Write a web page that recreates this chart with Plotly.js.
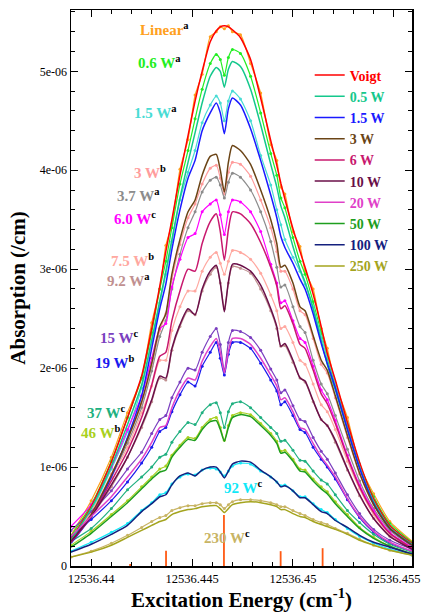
<!DOCTYPE html>
<html><head><meta charset="utf-8">
<script src="https://cdn.plot.ly/plotly-3.0.1.min.js"></script>
<style>html,body{margin:0;padding:0;background:#fff;}#chart{width:421px;height:612px;}</style>
</head><body><div id="chart"></div>
<script>
// Excitation energy grid (cm^-1)
const energy = [12536.4390,12536.4400,12536.4410,12536.4418,12536.4425,12536.4430,12536.4434,12536.4437,12536.4440,12536.4444,
 12536.4448,12536.44515,12536.4455,12536.4459,12536.4462,12536.4464,12536.4466,12536.4468,12536.4470,12536.4474,
 12536.4479,12536.4484,12536.4489,12536.4492,12536.4494,12536.4496,12536.4500,12536.45035,12536.4506,12536.4510,
 12536.4514,12536.4517,12536.4521,12536.4527,12536.4533,12536.4540,12536.4548,12536.4559];

// Absorption values in units of 1e-06 /cm
// model curves
const m_voigt = [0.27,0.6,1.05,1.5,1.92,2.4,2.83,3.18,3.5,3.95, 4.35,4.7,5.0,5.3,5.41,5.45,5.46,5.45,5.42,5.34, 5.12,4.73,4.3,4.05,3.87,3.71,3.41,3.18,3.02,2.75, 2.42,2.15,1.88,1.45,1.05,0.68,0.41,0.23];
const m_0p5 = [0.26,0.58,1.01,1.43,1.83,2.28,2.68,2.98,3.3,3.72, 4.08,4.38,4.68,4.95,5.04,5.0,4.84,5.02,5.1,5.05, 4.82,4.46,4.06,3.83,3.64,3.52,3.23,3.0,2.87,2.6, 2.28,2.04,1.78,1.38,1.0,0.65,0.39,0.22];
const m_1p5 = [0.23,0.5,0.9,1.3,1.72,2.2,2.6,2.85,3.2,3.6, 3.92,4.1,4.4,4.58,4.68,4.58,4.37,4.62,4.73,4.66, 4.42,4.1,3.75,3.52,3.33,3.22,3.06,2.9,2.8,2.55, 2.25,2.05,1.8,1.38,0.99,0.63,0.38,0.21];
const m_3 = [0.24,0.52,0.92,1.28,1.66,2.05,2.42,2.55,2.95,3.3, 3.58,3.7,3.95,4.14,4.16,4.0,3.78,4.08,4.25,4.2, 4.06,3.8,3.5,3.26,3.02,3.04,2.86,2.62,2.58,2.33, 2.08,1.98,1.72,1.32,0.94,0.62,0.38,0.21];
const m_6 = [0.24,0.5,0.86,1.16,1.5,1.83,2.12,2.16,2.48,2.78, 3.0,2.98,3.26,3.48,3.56,3.38,3.09,3.4,3.58,3.56, 3.46,3.27,3.02,2.83,2.6,2.63,2.45,2.24,2.2,1.98, 1.74,1.64,1.44,1.1,0.8,0.54,0.33,0.18];
const m_10 = [0.25,0.5,0.82,1.1,1.42,1.68,1.92,1.9,2.2,2.44, 2.6,2.54,2.8,2.98,3.04,2.86,2.57,2.87,3.05,3.04, 2.98,2.84,2.6,2.42,2.22,2.25,2.08,1.9,1.87,1.67, 1.48,1.42,1.27,0.98,0.72,0.48,0.3,0.17];
const m_20 = [0.3,0.5,0.7,0.9,1.08,1.25,1.4,1.42,1.6,1.78, 1.9,1.88,2.07,2.22,2.3,2.16,1.95,2.17,2.3,2.3, 2.24,2.1,1.93,1.82,1.68,1.7,1.56,1.4,1.38,1.24, 1.1,1.02,0.9,0.68,0.5,0.35,0.24,0.15];
const m_50 = [0.19,0.33,0.5,0.64,0.78,0.88,0.95,0.97,1.1,1.2, 1.28,1.27,1.38,1.46,1.47,1.38,1.26,1.4,1.5,1.53, 1.51,1.42,1.32,1.24,1.14,1.15,1.06,0.96,0.95,0.86, 0.78,0.73,0.63,0.5,0.38,0.28,0.2,0.12];
const m_100 = [0.14,0.22,0.32,0.41,0.55,0.63,0.7,0.72,0.82,0.91, 0.94,0.91,0.97,1.0,1.0,0.95,0.89,0.96,1.03,1.06, 1.05,0.97,0.9,0.85,0.8,0.81,0.76,0.69,0.69,0.62, 0.55,0.53,0.46,0.39,0.31,0.24,0.19,0.12];
const m_250 = [0.09,0.14,0.21,0.29,0.36,0.41,0.45,0.47,0.52,0.55, 0.57,0.58,0.6,0.61,0.61,0.58,0.54,0.58,0.62,0.64, 0.65,0.64,0.62,0.6,0.57,0.57,0.53,0.5,0.49,0.45, 0.42,0.4,0.37,0.32,0.26,0.21,0.16,0.11];

// measured data
const d_linear = [0.31,0.66,1.1,1.55,1.9,2.46,2.8,3.24,3.46,4.01, 4.31,4.76,4.97,5.35,5.4,5.45,5.43,5.46,5.4,5.37, 5.08,4.78,4.26,4.1,3.83,3.76,3.38,3.23,2.98,2.8, 2.4,2.2,1.84,1.5,1.02,0.73,0.45,0.25];
const d_0p6 = [0.3,0.62,1.06,1.5,1.9,2.36,2.8,3.08,3.42,3.86, 4.2,4.52,4.82,5.08,5.17,5.12,4.96,5.14,5.22,5.18, 4.95,4.58,4.17,3.95,3.72,3.62,3.32,3.08,2.95,2.67, 2.36,2.1,1.83,1.42,1.03,0.7,0.43,0.24];
const d_1p5 = [0.26,0.55,0.98,1.36,1.8,2.27,2.66,2.95,3.28,3.7, 3.98,4.2,4.48,4.66,4.75,4.68,4.5,4.7,4.8,4.72, 4.5,4.15,3.85,3.6,3.45,3.3,3.12,2.98,2.85,2.62, 2.32,2.12,1.85,1.44,1.03,0.68,0.41,0.23];
const d_3 = [0.26,0.53,0.93,1.28,1.64,2.02,2.38,2.55,2.9,3.25, 3.52,3.66,3.86,4.02,4.05,3.92,3.76,3.98,4.08,4.06, 3.94,3.7,3.42,3.18,2.98,2.98,2.8,2.58,2.54,2.3, 2.04,1.95,1.7,1.3,0.93,0.62,0.38,0.22];
const d_3p7 = [0.25,0.5,0.9,1.24,1.6,1.97,2.32,2.48,2.8,3.15, 3.42,3.58,3.78,3.9,3.93,3.85,3.72,3.88,3.97,3.93, 3.8,3.58,3.28,3.02,2.82,2.84,2.62,2.42,2.36,2.08, 1.84,1.74,1.52,1.18,0.86,0.58,0.36,0.2];
const d_6p0 = [0.4,0.62,1.0,1.38,1.72,2.1,2.4,2.45,2.82,3.1, 3.32,3.36,3.58,3.66,3.7,3.55,3.35,3.58,3.7,3.68, 3.58,3.38,3.05,2.86,2.66,2.68,2.48,2.3,2.26,2.02, 1.78,1.68,1.47,1.12,0.82,0.56,0.34,0.19];
const d_7p5 = [0.28,0.55,0.9,1.2,1.55,1.82,2.08,2.08,2.38,2.62, 2.78,2.78,2.98,3.12,3.17,3.06,2.95,3.08,3.19,3.17, 3.1,2.96,2.74,2.58,2.4,2.42,2.26,2.08,2.04,1.84, 1.63,1.56,1.38,1.06,0.78,0.52,0.32,0.18];
const d_9p2 = [0.27,0.5,0.8,1.1,1.4,1.66,1.9,1.88,2.18,2.42, 2.58,2.54,2.78,2.95,3.02,2.86,2.6,2.86,3.03,3.01, 2.96,2.8,2.58,2.4,2.22,2.23,2.06,1.9,1.86,1.66, 1.48,1.42,1.25,0.97,0.71,0.48,0.3,0.17];
const d_15 = [0.36,0.55,0.76,0.98,1.15,1.34,1.48,1.52,1.7,1.86, 2.0,1.98,2.16,2.32,2.4,2.24,1.97,2.26,2.38,2.37, 2.31,2.18,1.99,1.88,1.75,1.78,1.62,1.48,1.46,1.3, 1.16,1.08,0.94,0.72,0.53,0.37,0.26,0.17];
const d_19 = [0.3,0.47,0.66,0.85,1.04,1.2,1.36,1.4,1.56,1.73, 1.86,1.82,2.02,2.16,2.26,2.1,1.93,2.14,2.26,2.26, 2.2,2.05,1.88,1.77,1.63,1.66,1.52,1.38,1.35,1.2, 1.08,1.0,0.88,0.67,0.49,0.34,0.23,0.15];
const d_37 = [0.25,0.38,0.58,0.77,0.9,1.0,1.1,1.13,1.25,1.36, 1.45,1.43,1.55,1.63,1.65,1.55,1.4,1.56,1.64,1.66, 1.6,1.5,1.4,1.34,1.26,1.27,1.17,1.07,1.06,0.96, 0.87,0.83,0.72,0.56,0.44,0.32,0.22,0.14];
const d_46 = [0.21,0.35,0.52,0.66,0.8,0.9,0.98,1.01,1.12,1.22, 1.3,1.29,1.4,1.48,1.5,1.4,1.27,1.42,1.52,1.55, 1.53,1.44,1.34,1.26,1.16,1.17,1.08,0.98,0.97,0.88, 0.8,0.75,0.65,0.52,0.39,0.29,0.2,0.12];
const d_92 = [0.15,0.24,0.34,0.43,0.56,0.64,0.72,0.74,0.83,0.9, 0.93,0.92,0.97,0.99,0.98,0.95,0.91,0.96,1.01,1.04, 1.03,0.96,0.9,0.85,0.81,0.82,0.76,0.7,0.7,0.63, 0.57,0.54,0.47,0.38,0.3,0.23,0.17,0.11];
const d_230 = [0.09,0.15,0.23,0.31,0.39,0.45,0.49,0.51,0.56,0.59, 0.61,0.61,0.63,0.64,0.64,0.62,0.58,0.62,0.65,0.67, 0.67,0.66,0.64,0.62,0.6,0.6,0.56,0.53,0.51,0.47, 0.44,0.42,0.38,0.33,0.27,0.21,0.16,0.11];

// hyperfine line positions and strengths
const stickEnergy = [12536.44193,12536.44371,12536.44658,12536.44939,12536.45147];
const stickHeight = [0.02,0.155,0.515,0.15,0.18];

// legend (model) series
const modelNames = ['Voigt','0.5 W','1.5 W','3 W','6 W','10 W','20 W','50 W','100 W','250 W'];
const modelColors = ['#ff0000','#14c88c','#1a1aff','#6b4416','#c8186e','#6a0f48','#e040c8','#1e9e1e','#14207e','#a4a41e'];
const modelValues = [m_voigt,m_0p5,m_1p5,m_3,m_6,m_10,m_20,m_50,m_100,m_250];

// measured series labels
const dataNames = ['Linear','0.6 W','1.5 W','3 W','3.7 W','6.0 W','7.5 W','9.2 W','15 W','19 W','37 W','46 W','92 W','230 W'];
const dataRefs = ['a','a','a','b','a','c','b','a','c','b','c','b','c','c'];
const dataColors = ['#ffa020','#22ee22','#48dcd4','#ff9c9c','#8c8c8c','#ff00ff','#ffa8a0','#c09090','#7b3fc0','#1a1aee','#20b080','#a8d020','#10e8f8','#c8b464'];
const dataValues = [d_linear,d_0p6,d_1p5,d_3,d_3p7,d_6p0,d_7p5,d_9p2,d_15,d_19,d_37,d_46,d_92,d_230];

// axis ticks
const xTickVals = [12536.44,12536.445,12536.45,12536.455];
const xTickText = ['12536.44','12536.445','12536.45','12536.455'];
const yTickVals = [0,1,2,3,4,5];
const yTickText = ['0','1e-06','2e-06','3e-06','4e-06','5e-06'];

const SERIF = 'Liberation Serif, Times New Roman, serif';

const traces = [];
dataNames.forEach((n,i)=>{
  traces.push({type:'scatter',mode:'lines+markers',x:energy,y:dataValues[i],name:n,showlegend:false,
    line:{color:dataColors[i],width:1.2,shape:'spline',smoothing:0.6},
    marker:{color:dataColors[i],size:3},hoverinfo:'skip'});
});
modelNames.forEach((n,i)=>{
  traces.push({type:'scatter',mode:'lines',x:energy,y:modelValues[i],
    name:'<span style="color:'+modelColors[i]+'">'+n+'</span>',
    line:{color:modelColors[i],width:1.5,shape:'spline',smoothing:0.6},hoverinfo:'skip'});
});
traces.push({type:'bar',x:stickEnergy,y:stickHeight,width:0.00009,showlegend:false,
  marker:{color:'#ff5a14',line:{width:0}},hoverinfo:'skip'});

// label placement (left edge, vertical centre) in data coordinates
const labelPlace = [
 [12536.44232,5.43],[12536.44222,5.09],[12536.44202,4.59],[12536.44202,3.98],
 [12536.44118,3.75],[12536.44103,3.52],[12536.44088,3.09],[12536.44068,2.89],
 [12536.44034,2.31],[12536.44009,2.06],[12536.43969,1.56],[12536.4394,1.35],
 [12536.44647,0.80],[12536.44548,0.29]];
const annotations = dataNames.map((n,i)=>({
  xref:'x',yref:'y',x:labelPlace[i][0],y:labelPlace[i][1],xanchor:'left',yanchor:'middle',
  showarrow:false,
  text:'<b><span style="color:'+dataColors[i]+'">'+n+'</span><sup>'+dataRefs[i]+'</sup></b>',
  font:{family:SERIF,size:15,color:'#000'}
}));

const layout = {
  width:421,height:612,
  margin:{l:71,r:9,t:10,b:46},
  paper_bgcolor:'#fff',plot_bgcolor:'#fff',
  showlegend:true,
  barmode:'overlay',
  legend:{x:0.70,y:0.911,xanchor:'left',yanchor:'top',bgcolor:'rgba(0,0,0,0)',
    borderwidth:0,itemwidth:30,font:{family:SERIF,size:14,weight:'bold'}},
  xaxis:{range:[12536.439,12536.4559],tickmode:'array',tickvals:xTickVals,ticktext:xTickText,
    ticks:'inside',ticklen:7,tickwidth:1,tickcolor:'#000',ticklabeloverflow:'allow',
    minor:{tickmode:'linear',tick0:12536.44,dtick:0.001,ticks:'inside',ticklen:4,tickcolor:'#000'},
    showline:true,linewidth:1.5,linecolor:'#000',mirror:'ticks',showgrid:false,zeroline:false,
    tickfont:{family:SERIF,size:12.5,color:'#000'},
    title:{text:'Excitation Energy (cm<sup>-1</sup>)',font:{family:SERIF,size:21,weight:'bold',color:'#000'},standoff:6}},
  yaxis:{range:[0,5.62],tickmode:'array',tickvals:yTickVals,ticktext:yTickText,
    ticks:'inside',ticklen:7,tickwidth:1,tickcolor:'#000',
    minor:{tickmode:'linear',tick0:0,dtick:0.2,ticks:'inside',ticklen:4,tickcolor:'#000'},
    showline:true,linewidth:1.5,linecolor:'#000',mirror:'ticks',showgrid:false,zeroline:false,
    tickfont:{family:SERIF,size:12,color:'#000'},
    title:{text:'Absorption (/cm)',font:{family:SERIF,size:21,weight:'bold',color:'#000'},standoff:8}},
  annotations:annotations
};

Plotly.newPlot('chart',traces,layout,{staticPlot:true,displayModeBar:false});
</script>
</body></html>
